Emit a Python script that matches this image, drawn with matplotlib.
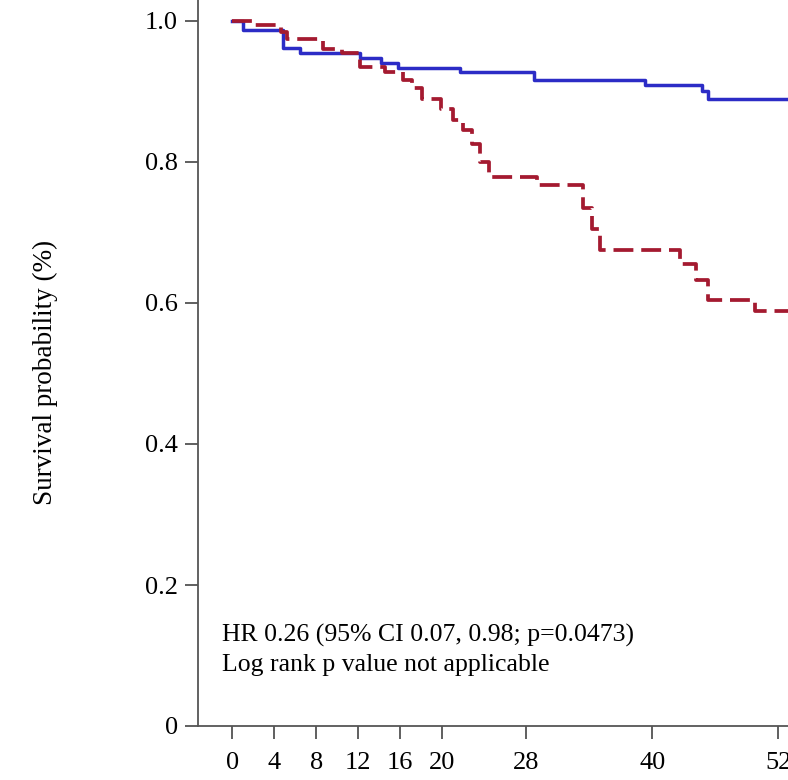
import matplotlib

matplotlib.use("Agg")
import matplotlib.pyplot as plt

# Kaplan-Meier step data: event times (weeks) and survival after each step
blue_times = [0, 1.0, 4.8, 6.4, 12.2, 14.2, 15.8, 21.7, 28.7, 39.3, 44.7, 45.3, 54]
blue_surv = [1.0, 0.987, 0.962, 0.954, 0.947, 0.940, 0.933, 0.927, 0.917, 0.909, 0.900, 0.890, 0.890]

red_times = [0, 1.9, 4.6, 5.2, 8.6, 10.4, 12.2, 14.5, 16.3, 17.1, 18.1, 19.9, 21.0, 22.0,
             22.8, 23.6, 24.4, 29.0, 33.4, 34.3, 35.0, 42.6, 44.2, 45.3, 49.8, 54]
red_surv = [1.0, 0.994, 0.985, 0.975, 0.960, 0.954, 0.935, 0.928, 0.916, 0.905, 0.890, 0.875,
            0.860, 0.845, 0.825, 0.800, 0.779, 0.767, 0.735, 0.705, 0.675, 0.655, 0.632, 0.604,
            0.588, 0.588]

x_ticks = [0, 4, 8, 12, 16, 20, 28, 40, 52]
y_ticks = [0, 0.2, 0.4, 0.6, 0.8, 1.0]
y_tick_labels = ["0", "0.2", "0.4", "0.6", "0.8", "1.0"]

annotation_lines = ["HR 0.26 (95% CI 0.07, 0.98; p=0.0473)", "Log rank p value not applicable"]

plt.rcParams["font.family"] = ["Liberation Serif", "DejaVu Serif"]

W, H = 788, 780
fig = plt.figure(figsize=(W / 100, H / 100), dpi=100)

# axes run off the right edge of the canvas
left_px, right_px, bottom_px = 198, 800, 726
ax = fig.add_axes([left_px / W, (H - bottom_px) / H, (right_px - left_px) / W, bottom_px / H])

px_per_week = 10.5
x0_px = 232.3
ax.set_xlim((left_px - x0_px) / px_per_week, (right_px - x0_px) / px_per_week)
ax.set_ylim(0, bottom_px / 705)

ax.step(blue_times, blue_surv, where="post", color="#2c2cc6", linewidth=2.5)
ax.step(red_times, red_surv, where="post", color="#a41a30", linewidth=2.7,
        dashes=(5.3, 2.1))

ax.set_xticks(x_ticks)
ax.set_yticks(y_ticks)
ax.set_yticklabels(y_tick_labels)
ax.tick_params(axis="both", direction="out", length=9.5, width=1.2, color="#444444",
               labelsize=19, labelcolor="black")
ax.tick_params(axis="x", pad=9)
ax.tick_params(axis="y", pad=5)

for side in ["top", "right"]:
    ax.spines[side].set_visible(False)
for side in ["left", "bottom"]:
    ax.spines[side].set_color("#555555")
    ax.spines[side].set_linewidth(1.3)

ax.text(-0.96, 0.128, annotation_lines[0], fontsize=18.5, va="center", ha="left")
ax.text(-0.96, 0.087, annotation_lines[1], fontsize=18.5, va="center", ha="left")

fig.text(45 / W, 1 - 372 / H, "Survival probability (%)", rotation=90,
         ha="center", va="center", fontsize=19.5)

fig.savefig("out.png", dpi=100)
